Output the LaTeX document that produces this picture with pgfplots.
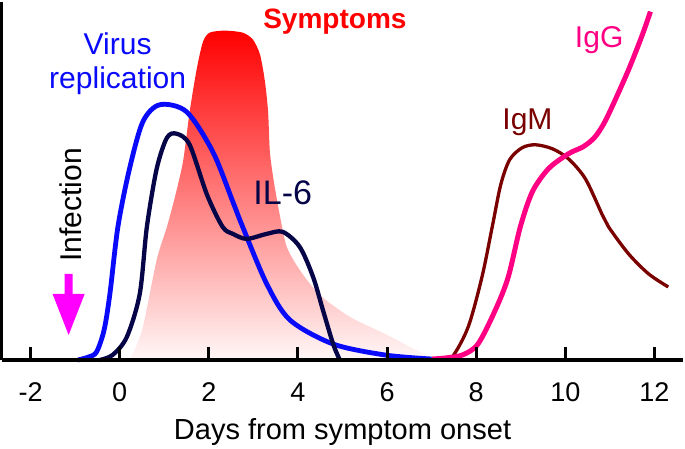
\documentclass[border=0pt]{standalone}
\usepackage{pgfplots}
\pgfplotsset{compat=1.18}
\usepackage{fontspec}
\setmainfont{Liberation Sans}
\definecolor{vblue}{RGB}{10,10,250}
\definecolor{ilnavy}{RGB}{5,5,72}
\definecolor{igm}{RGB}{122,0,0}
\definecolor{igg}{RGB}{255,0,132}
\definecolor{arr}{RGB}{255,0,255}
\begin{document}
\begin{tikzpicture}
\begin{axis}[
  scale only axis, width=681pt, height=358pt,
  xmin=-2.65, xmax=12.65, ymin=0, ymax=358,
  axis x line=bottom, axis y line=left,
  axis line style={-, line width=3.2pt, black},
  xtick={-2,0,2,4,6,8,10,12},
  xticklabels={-2,0,2,4,6,8,10,12},
  ytick=\empty,
  tick align=inside, major tick length=13pt,
  tick style={line width=3pt, black},
  tick label style={font=\fontsize{27}{30}\selectfont},
  xticklabel style={yshift=-19pt},
  xlabel={Days from symptom onset},
  xlabel style={font=\fontsize{29}{34}\selectfont, yshift=-10pt},
  clip=false,
  axis on top,
]
% Symptoms (gradient area)
\addplot[draw=none, top color=red, bottom color=red!3, smooth, tension=0.45] coordinates {
 (0.18,0) (0.29,6) (0.52,33) (0.83,100) (1.06,133) (1.24,163) (1.42,198) (1.57,248)
 (1.73,291) (1.87,318) (2.02,327) (2.36,329) (2.76,327) (2.99,320) (3.15,305)
 (3.26,278) (3.33,248) (3.37,208) (3.46,178) (3.6,143) (3.75,113) (4.04,90)
 (4.49,65) (5.17,43) (5.96,26) (6.52,13) (7.01,2) (7.05,0)
} \closedcycle;
% Virus replication
\addplot[vblue, line width=4.8pt, smooth, tension=0.5] coordinates {
 (-0.94,0) (-0.7,3) (-0.52,8) (-0.35,30) (-0.22,66) (-0.04,133) (0.22,191) (0.52,238)
 (0.9,255) (1.5,248) (2.09,208) (2.54,158) (2.76,133) (3.3,76) (3.82,40)
 (4.79,16) (5.96,5) (7.0,1)
};
% IL-6
\addplot[ilnavy, line width=4.3pt, smooth, tension=0.5] coordinates {
 (-0.45,0) (-0.16,5) (0.16,23) (0.45,66) (0.61,133) (0.83,191) (1.06,222) (1.28,226)
 (1.57,215) (1.96,165) (2.31,133) (2.54,126) (2.85,121) (3.3,126) (3.66,128)
 (4.04,113) (4.34,83) (4.56,50) (4.79,16) (4.94,0)
};
% IgM
\addplot[igm, line width=3.3pt, smooth, tension=0.5] coordinates {
 (7.2,0) (7.46,3) (7.82,33) (8.13,83) (8.36,133) (8.55,175) (8.75,200) (9.03,212)
 (9.33,215) (9.71,211) (10.07,201) (10.45,181) (10.83,145) (10.97,133)
 (11.42,106) (11.87,86) (12.31,73)
};
% IgG
\addplot[igg, line width=5pt, smooth, tension=0.5] coordinates {
 (7.01,1) (7.3,2) (7.69,5) (8.04,16) (8.43,50) (8.72,83) (8.99,133) (9.26,168)
 (9.62,191) (10.07,206) (10.4,213) (10.65,222) (10.85,235) (11.06,254) (11.42,290)
 (11.73,325) (11.91,348)
};
% labels
\node[anchor=base, text=vblue, font=\fontsize{30}{34}\selectfont] at (axis cs:-0.045,305) {Virus};
\node[anchor=base, text=vblue, font=\fontsize{30}{34}\selectfont] at (axis cs:-0.045,271) {replication};
\node[anchor=base, text=red, font=\fontsize{28}{32}\selectfont\bfseries] at (axis cs:4.83,331) {Symptoms};
\node[anchor=base, text=ilnavy, font=\fontsize{34}{38}\selectfont] at (axis cs:3.66,155) {IL-6};
\node[anchor=base, text=igm, font=\fontsize{30}{34}\selectfont] at (axis cs:9.15,230) {IgM};
\node[anchor=base, text=igg, font=\fontsize{30}{34}\selectfont] at (axis cs:10.76,312) {IgG};
\node[anchor=base, rotate=90, font=\fontsize{30}{34}\selectfont] at (axis cs:-0.854,155) {Infection};
% infection arrow
\fill[arr] (axis cs:-1.236,86) -- (axis cs:-1.056,86) -- (axis cs:-1.056,66) -- (axis cs:-0.786,66)
  -- (axis cs:-1.146,25) -- (axis cs:-1.506,66) -- (axis cs:-1.236,66) -- cycle;
\end{axis}
\end{tikzpicture}
\end{document}
